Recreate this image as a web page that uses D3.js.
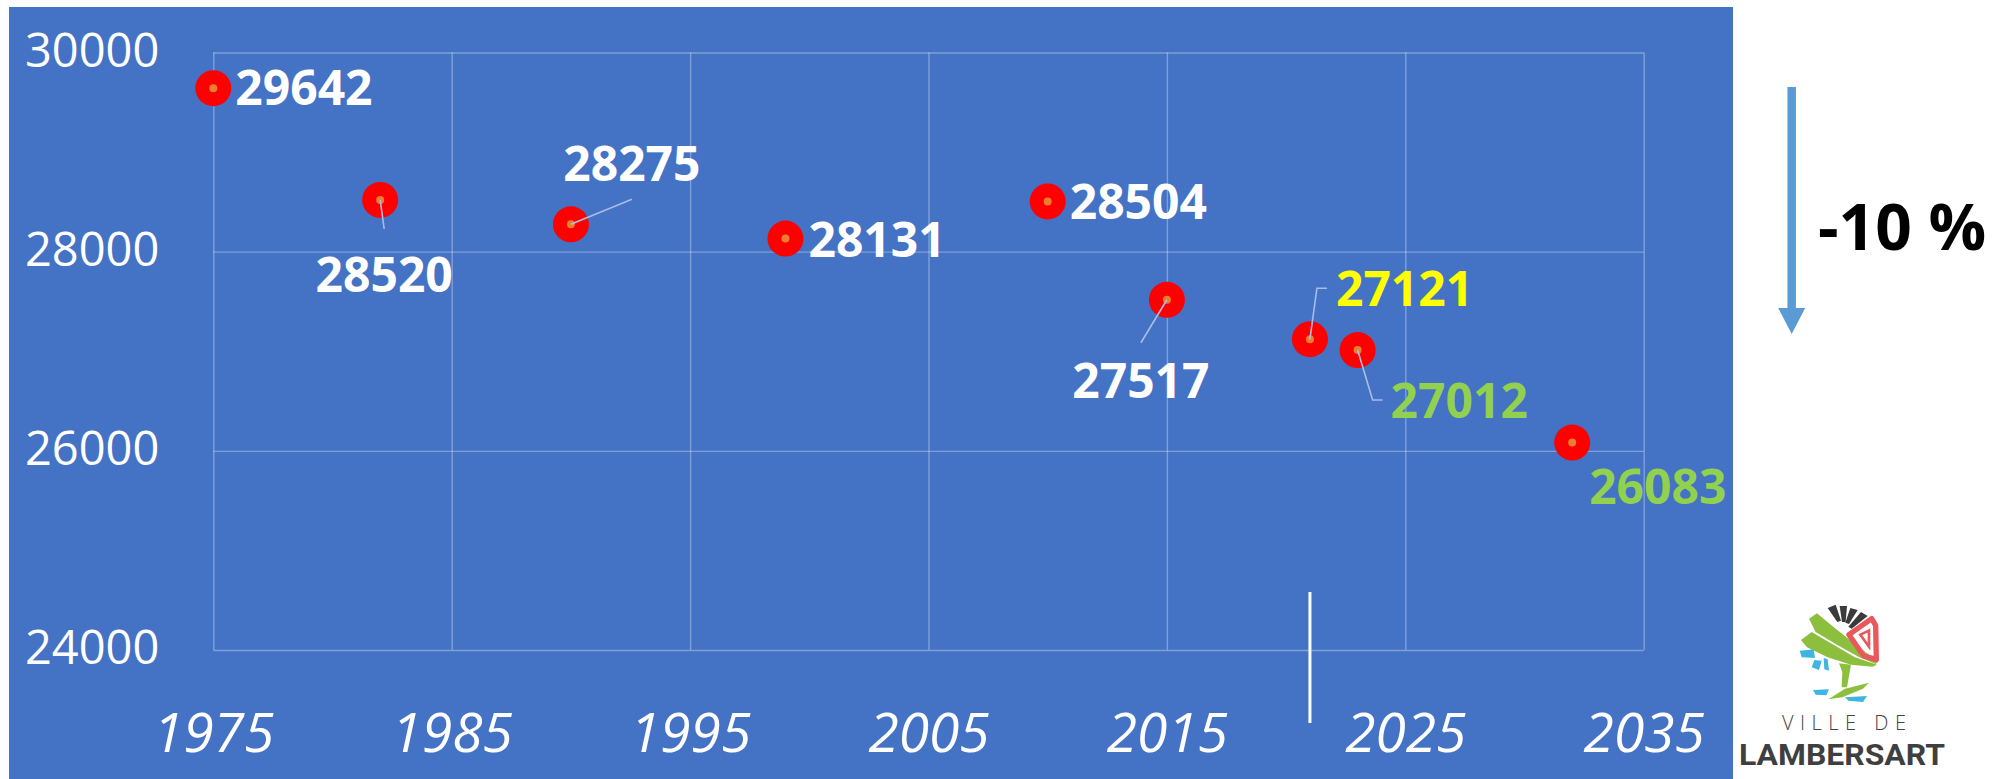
<!DOCTYPE html>
<html>
<head>
<meta charset="utf-8">
<script src="https://cdn.jsdelivr.net/npm/d3@7"></script>
<style>
  html, body { margin: 0; padding: 0; background: #ffffff; }
  svg { display: block; }
</style>
</head>
<body>
<script>
// ---- data ----
const years  = [1975, 1982, 1990, 1999, 2010, 2015, 2021, 2023, 2032];
const values = [29642, 28520, 28275, 28131, 28504, 27517, 27121, 27012, 26083];
const labelKinds = ["past", "past", "past", "past", "past", "past", "current", "projection", "projection"];
const xTicks = [1975, 1985, 1995, 2005, 2015, 2025, 2035];
const yTicks = [24000, 26000, 28000, 30000];
const changeLabel = "-10 %";
const markerYear = 2021;
const logoLine1 = "VILLE DE";
const logoLine2 = "LAMBERSART";

// ---- layout / style (not data) ----
const W = 2006, H = 779;
const colors = { past: "#ffffff", current: "#ffff00", projection: "#92d050" };
const labelLayout = [
  { dx: 22, dy: 0, anchor: "start" },
  { dx: 4, dy: 75, anchor: "middle", leader: [[4, 29]] },
  { dx: 61, dy: -60, anchor: "middle", leader: [[61, -25]] },
  { dx: 23, dy: 1, anchor: "start" },
  { dx: 22, dy: 1, anchor: "start" },
  { dx: -26, dy: 81, anchor: "middle", leader: [[-26, 43]] },
  { dx: 26, dy: -50, anchor: "start", leader: [[7, -51], [17, -51]] },
  { dx: 33, dy: 51, anchor: "start", leader: [[15, 50], [25, 50]] },
  { dx: 17, dy: 44, anchor: "start" }
];

const svg = d3.select("body").append("svg").attr("width", W).attr("height", H);

// blue panel
svg.append("rect").attr("x", 9).attr("y", 7).attr("width", 1724).attr("height", H - 7).attr("fill", "#4472c4");

const x = d3.scaleLinear().domain([1975, 2035]).range([213.3, 1643.7]);
const y = d3.scaleLinear().domain([24000, 30000]).range([650, 52.5]);

const gridColor = "rgba(255,255,255,0.32)";
const FONT = "'Open Sans', 'Noto Sans', sans-serif";

// y axis with gridlines
const yAxis = svg.append("g").attr("transform", `translate(${x.range()[0]},0)`)
  .call(d3.axisLeft(y).tickValues(yTicks).tickFormat(d3.format("d"))
    .tickSizeInner(-(x.range()[1] - x.range()[0])).tickSizeOuter(0).tickPadding(54));
yAxis.select(".domain").remove();
yAxis.selectAll(".tick line").attr("stroke", gridColor).attr("stroke-width", 1.4);
yAxis.selectAll(".tick text").attr("fill", "#ffffff").attr("dy", null).attr("y", 13.5)
  .style("font-family", FONT).style("font-size", "47px").style("font-weight", 400);

// x axis with gridlines
const xAxis = svg.append("g").attr("transform", `translate(0,${y.range()[0]})`)
  .call(d3.axisBottom(x).tickValues(xTicks).tickFormat(d3.format("d"))
    .tickSizeInner(-(y.range()[0] - y.range()[1])).tickSizeOuter(0).tickPadding(0));
xAxis.select(".domain").remove();
xAxis.selectAll(".tick line").attr("stroke", gridColor).attr("stroke-width", 1.4);
xAxis.selectAll(".tick text").attr("fill", "#ffffff").attr("dy", null).attr("y", 102)
  .style("font-family", FONT).style("font-size", "55px").style("font-style", "italic").style("font-weight", 400);

// white vertical marker for current year
svg.append("line")
  .attr("x1", x(markerYear)).attr("x2", x(markerYear))
  .attr("y1", 592).attr("y2", 723)
  .attr("stroke", "#ffffff").attr("stroke-width", 3);

const pts = years.map((yr, i) => ({ yr, v: values[i], kind: labelKinds[i], lay: labelLayout[i] }));

// markers
const mk = svg.append("g").selectAll("g").data(pts).join("g")
  .attr("transform", d => `translate(${x(d.yr)},${y(d.v)})`);
mk.append("circle").attr("r", 18).attr("fill", "#ff0000");
mk.append("circle").attr("r", 4).attr("fill", "#ed7d31");

// leader lines (start at point centre)
svg.append("g").selectAll("path").data(pts.filter(d => d.lay.leader)).join("path")
  .attr("d", d => {
    const px = x(d.yr), py = y(d.v);
    return "M" + px + "," + py + d.lay.leader.map(p => "L" + (px + p[0]) + "," + (py + p[1])).join("");
  })
  .attr("fill", "none").attr("stroke", "#a9bde6").attr("stroke-width", 1.6);

// data labels
svg.append("g").selectAll("text").data(pts).join("text")
  .attr("x", d => x(d.yr) + d.lay.dx)
  .attr("y", d => y(d.v) + d.lay.dy + 17)
  .attr("text-anchor", d => d.lay.anchor)
  .attr("fill", d => colors[d.kind])
  .style("font-family", FONT).style("font-size", "48px").style("font-weight", 700)
  .text(d => d.v);

// arrow
const arrowX = 1791.7;
svg.append("line").attr("x1", arrowX).attr("x2", arrowX).attr("y1", 87).attr("y2", 312)
  .attr("stroke", "#5b9bd5").attr("stroke-width", 8.5);
svg.append("path")
  .attr("d", `M${arrowX - 13.5},308 L${arrowX + 13.5},308 L${arrowX},334 Z`)
  .attr("fill", "#5b9bd5");
svg.append("text").attr("x", 1902).attr("y", 250).attr("text-anchor", "middle")
  .attr("fill", "#000000")
  .style("font-family", FONT).style("font-size", "64px").style("font-weight", 700)
  .text(changeLabel);

// logo (decorative emblem)
const logo = svg.append("g").attr("transform", "translate(1795,600) scale(0.3333)");
const dark = "#3b3b3b", green = "#8dbf3f", red = "#e8585c", blue = "#3fb6e2";
const shapes = [
  // dark blades
  [dark, "M98,24 L122,14 L138,62 L127,66 Z"],
  [dark, "M134,18 L156,18 L152,66 L141,66 Z"],
  [dark, "M166,24 L188,30 L162,72 L151,68 Z"],
  [dark, "M198,36 L218,48 L170,86 L160,80 Z"],
  // green upper band
  [green, "M42,56 L66,40 L112,78 L162,118 L214,158 L252,182 L242,192 L190,170 L122,132 L62,96 Z"],
  // green lower fan
  [green, "M18,120 L50,96 L118,136 L180,172 L246,194 L232,200 L168,194 L98,172 L36,142 Z"],
  // blue left pieces
  [blue, "M14,152 L56,148 L60,174 L20,172 Z"],
  [blue, "M58,180 L80,182 L72,210 L50,202 Z"],
  [blue, "M86,174 L98,178 L102,212 L88,208 Z"],
  // trunk
  [green, "M132,190 L168,194 L156,262 L140,262 L142,216 Z"],
  // base swoosh
  [green, "M100,298 L150,266 L222,248 L204,266 L142,292 Z"],
  // blue bottom
  [blue, "M54,270 L102,268 L94,286 L62,284 Z"],
  [blue, "M150,292 L216,288 L204,306 L160,302 Z"]
];
shapes.forEach(s => logo.append("path").attr("d", s[1]).attr("fill", s[0]));
// red triangular loop
logo.append("path").attr("d", "M162,104 L230,56 L242,76 L244,178 L206,168 Z")
  .attr("fill", "none").attr("stroke", red).attr("stroke-width", 16).attr("stroke-linejoin", "round");
logo.append("path").attr("d", "M196,104 L222,92 L222,140 Z").attr("fill", "none")
  .attr("stroke", red).attr("stroke-width", 8);

svg.append("text").attr("x", 1782).attr("y", 730).attr("textLength", 124).attr("lengthAdjust", "spacing")
  .attr("fill", "#444444")
  .style("font-family", "'Open Sans', sans-serif").style("font-size", "20px").style("font-weight", 300)
  .text(logoLine1);
svg.append("text").attr("x", 1739).attr("y", 765).attr("textLength", 206).attr("lengthAdjust", "spacingAndGlyphs")
  .attr("fill", "#3f3f3f")
  .style("font-family", "'Roboto', sans-serif").style("font-size", "29px").style("font-weight", 700)
  .text(logoLine2);
</script>
</body>
</html>
